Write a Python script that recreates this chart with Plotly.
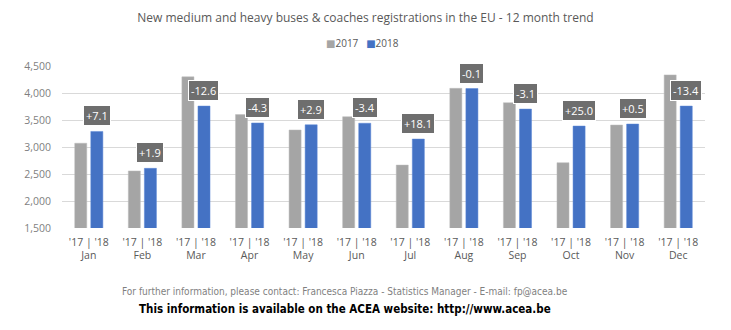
import plotly.graph_objects as go

months = ["Jan", "Feb", "Mar", "Apr", "May", "Jun", "Jul", "Aug", "Sep", "Oct", "Nov", "Dec"]
v2017 = [3070, 2556, 4300, 3600, 3315, 3561, 2665, 4087, 3820, 2710, 3407, 4335]
v2018 = [3288, 2605, 3758, 3445, 3411, 3440, 3147, 4083, 3702, 3388, 3425, 3758]
changes = ["+7.1", "+1.9", "-12.6", "-4.3", "+2.9", "-3.4", "+18.1", "-0.1", "-3.1", "+25.0", "+0.5", "-13.4"]
y_ticks = [1500, 2000, 2500, 3000, 3500, 4000, 4500]

tick_text = ["'17 | '18<br>" + m for m in months]
c2017, c2018 = "#A5A5A5", "#4472C4"

fig = go.Figure()
fig.add_trace(go.Bar(x=months, y=v2017, name="2017", showlegend=False,
                     marker=dict(color=c2017, line=dict(color="#BDBDBD", width=0.5))))
fig.add_trace(go.Bar(x=months, y=v2018, name="2018", showlegend=False,
                     marker=dict(color=c2018, line=dict(color="#5B86D6", width=0.5))))

for m, v, c in zip(months, v2018, changes):
    fig.add_annotation(x=m, y=v, text=c, showarrow=False, xshift=8, yshift=5,
                       yanchor="bottom", xanchor="center",
                       bgcolor="#6E6E6E", bordercolor="#FFFFFF", borderwidth=1, borderpad=2,
                       font=dict(color="white", size=11, family="Open Sans, DejaVu Sans"))

font_fam = "Open Sans, DejaVu Sans, sans-serif"
# legend
fig.add_annotation(text=f"<span style='color:{c2017}'>■</span>2017&nbsp;&nbsp;&nbsp;<span style='color:{c2018}'>■</span>2018",
                   xref="paper", yref="paper", x=0.467, y=1.142, showarrow=False, yanchor="middle",
                   font=dict(size=10, color="#595959", family=font_fam))
fig.add_annotation(text="For further information, please contact: Francesca Piazza - Statistics Manager - E-mail: fp@acea.be",
                   xref="paper", yref="paper", x=0.44, y=-0.395, showarrow=False, yanchor="middle",
                   font=dict(size=10, color="#7F7F7F", family="Liberation Sans Narrow, DejaVu Sans Condensed, sans-serif"))
fig.add_annotation(text="<b>This information is available on the ACEA website: http://www.acea.be</b>",
                   xref="paper", yref="paper", x=0.44, y=-0.5, showarrow=False, yanchor="middle",
                   font=dict(size=11.5, color="#000000", family="Liberation Sans Narrow, DejaVu Sans Condensed, sans-serif"))

fig.update_layout(
    width=731, height=330,
    margin=dict(l=62, r=26, t=66, b=102),
    paper_bgcolor="white", plot_bgcolor="white",
    title=dict(text="New medium and heavy buses & coaches registrations in the EU - 12 month trend",
               x=0.5, xanchor="center", y=0.945, yanchor="middle",
               font=dict(size=12, color="#595959", family=font_fam)),
    barmode="group", bargap=0.40, bargroupgap=0.25,
    showlegend=False,
    xaxis=dict(tickmode="array", tickvals=months, ticktext=tick_text, showgrid=False,
               showline=False, ticks="", ticklabelstandoff=6,
               tickfont=dict(size=10.5, color="#595959", family=font_fam)),
    yaxis=dict(range=[1500, 4500], tickvals=y_ticks, tickformat=",", showgrid=True,
               gridcolor="#D9D9D9", gridwidth=1, zeroline=False, showline=False, ticks="",
               ticklabelstandoff=10,
               tickfont=dict(size=10.5, color="#7F7F7F", family=font_fam)),
)

fig.write_html("out.html")
